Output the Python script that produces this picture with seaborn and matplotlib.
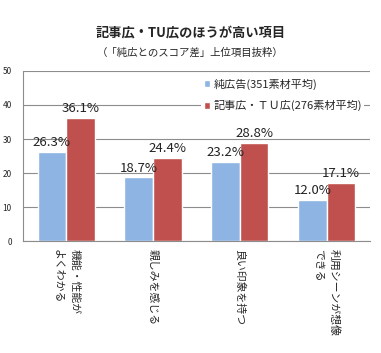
import pandas as pd
import matplotlib.pyplot as plt
import seaborn as sns

# --- データ ---
CATEGORIES = ["機能・性能が\nよくわかる", "親しみを感じる", "良い印象を持つ", "利用シーンが想像\nできる"]
SERIES = ["純広告(351素材平均)", "記事広・ＴＵ広(276素材平均)"]
PURE_AD = [26.3, 18.7, 23.2, 12.0]
ARTICLE_AD = [36.1, 24.4, 28.8, 17.1]
Y_TICKS = [0, 10, 20, 30, 40, 50]

PALETTE = {
    SERIES[0]: "#8DB4E2",  # 青
    SERIES[1]: "#C0504D",  # 赤
}


def build_df():
    rows = []
    for cat, a, b in zip(CATEGORIES, PURE_AD, ARTICLE_AD):
        rows.append({"Item": cat, "Series": SERIES[0], "Score": a})
        rows.append({"Item": cat, "Series": SERIES[1], "Score": b})
    return pd.DataFrame(rows)


def main():
    df = build_df()

    sns.set_style("white")
    plt.rcParams["font.family"] = ["Noto Sans CJK JP", "DejaVu Sans"]

    fig = plt.figure(figsize=(3.81, 3.53), dpi=100)
    ax = fig.add_axes([0.060, 0.317, 0.911, 0.482])

    sns.barplot(
        data=df,
        x="Item",
        y="Score",
        hue="Series",
        order=CATEGORIES,
        hue_order=SERIES,
        palette=PALETTE,
        width=0.66,
        saturation=1,
        ax=ax,
        zorder=2,
    )

    for cont in ax.containers:
        ax.bar_label(cont, fmt="%.1f%%", padding=2, fontsize=9.5, color="#222222")

    ax.set_ylim(0, 50)
    ax.set_yticks(Y_TICKS)
    ax.set_xlim(-0.5, len(CATEGORIES) - 0.5)
    ax.yaxis.grid(True, color="#8c8c8c", linewidth=0.8, zorder=0)
    ax.set_axisbelow(True)

    # 軸まわり
    for side in ["top", "right"]:
        ax.spines[side].set_visible(False)
    for side in ["left", "bottom"]:
        ax.spines[side].set_color("#8c8c8c")
        ax.spines[side].set_linewidth(0.8)
    ax.tick_params(axis="y", direction="out", length=4, width=0.8, color="#8c8c8c",
                   labelsize=6, pad=4)
    ax.set_xticks([i - 0.5 for i in range(len(CATEGORIES) + 1)], minor=True)
    ax.tick_params(axis="x", which="minor", direction="out", length=4, width=0.8, color="#8c8c8c")
    ax.tick_params(axis="x", which="major", length=0, pad=6)
    ax.set_xticklabels(CATEGORIES, rotation=-90, fontsize=7.8, va="top", ha="center",
                       multialignment="left", linespacing=1.8)

    ax.set_xlabel("")
    ax.set_ylabel("")

    ax.legend(
        loc="upper right",
        bbox_to_anchor=(1.0, 1.0),
        fontsize=8,
        frameon=True,
        facecolor="white",
        edgecolor="none",
        framealpha=1,
        handlelength=0.6,
        handleheight=0.6,
        handletextpad=0.3,
        labelspacing=0.9,
        borderpad=0.2,
    )

    fig.text(0.5, 0.905, "記事広・TU広のほうが高い項目", ha="center", va="center",
             fontsize=9.5, fontweight="bold")
    fig.text(0.5, 0.852, "（「純広とのスコア差」上位項目抜粋）", ha="center", va="center",
             fontsize=7.5)

    fig.savefig("out.png", dpi=100)
    plt.close(fig)


if __name__ == "__main__":
    main()
